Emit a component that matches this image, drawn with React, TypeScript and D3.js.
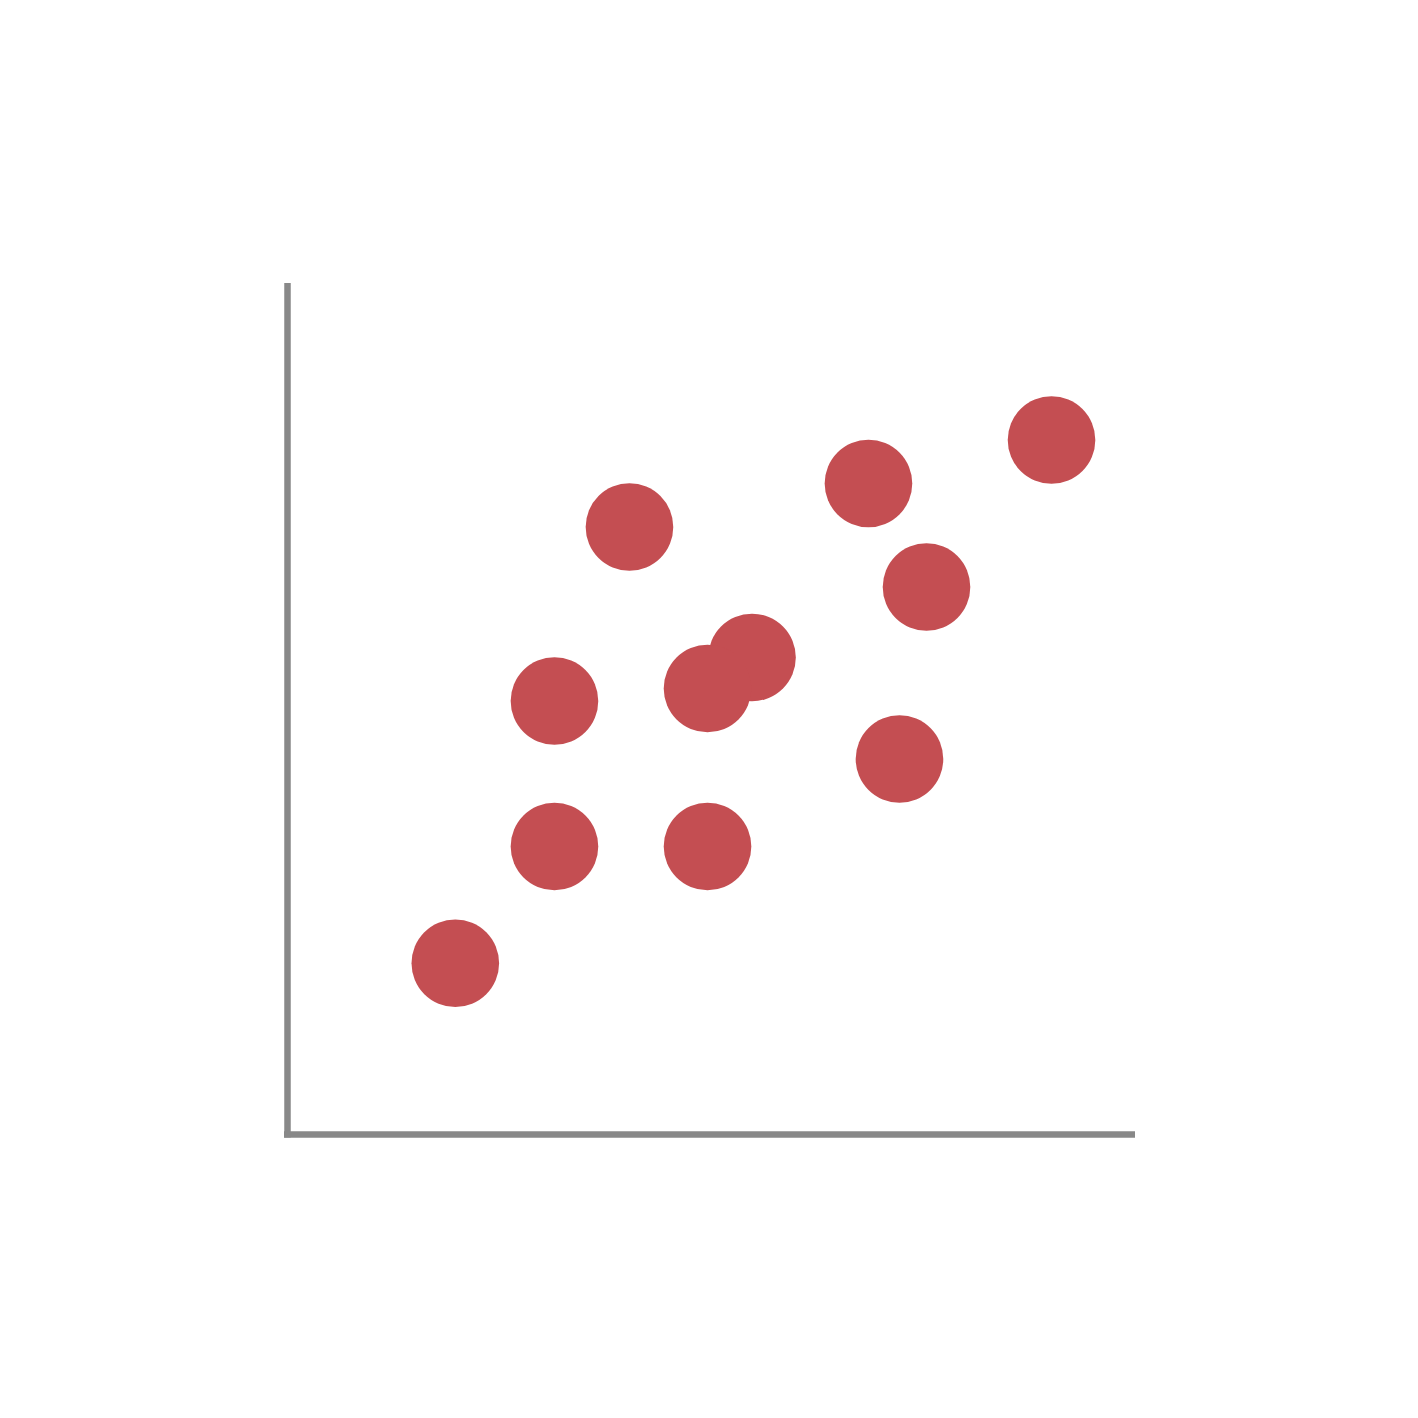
import React from "react";
import * as d3 from "d3";

const xValues = [1.98, 3.15, 3.15, 4.035, 4.956, 5.481, 4.956, 6.855, 7.221, 7.54, 9.015];
const yValues = [2.011, 3.382, 5.091, 7.134, 3.382, 5.602, 5.238, 7.645, 4.41, 6.43, 8.156];

const W = 1418;
const H = 1418;

export default function App() {
  const x = d3.scaleLinear().domain([0, 10]).range([287.5, 1135]);
  const y = d3.scaleLinear().domain([0, 10]).range([1134.5, 283]);
  const pts = xValues.map((v, i) => ({ x: v, y: yValues[i] }));
  return (
    <svg
      width={W}
      height={H}
      style={{ position: "absolute", left: 0, top: 0, background: "#fff" }}
    >
      <line x1={x(0)} x2={x(0)} y1={y(10)} y2={y(0) + 3} stroke="#888888" strokeWidth={6.5} />
      <line x1={x(0) - 3.5} x2={x(10)} y1={y(0)} y2={y(0)} stroke="#888888" strokeWidth={6.5} />
      {pts.map((p, i) => (
        <circle key={i} cx={x(p.x)} cy={y(p.y)} r={43.8} fill="#c44e52" />
      ))}
    </svg>
  );
}
